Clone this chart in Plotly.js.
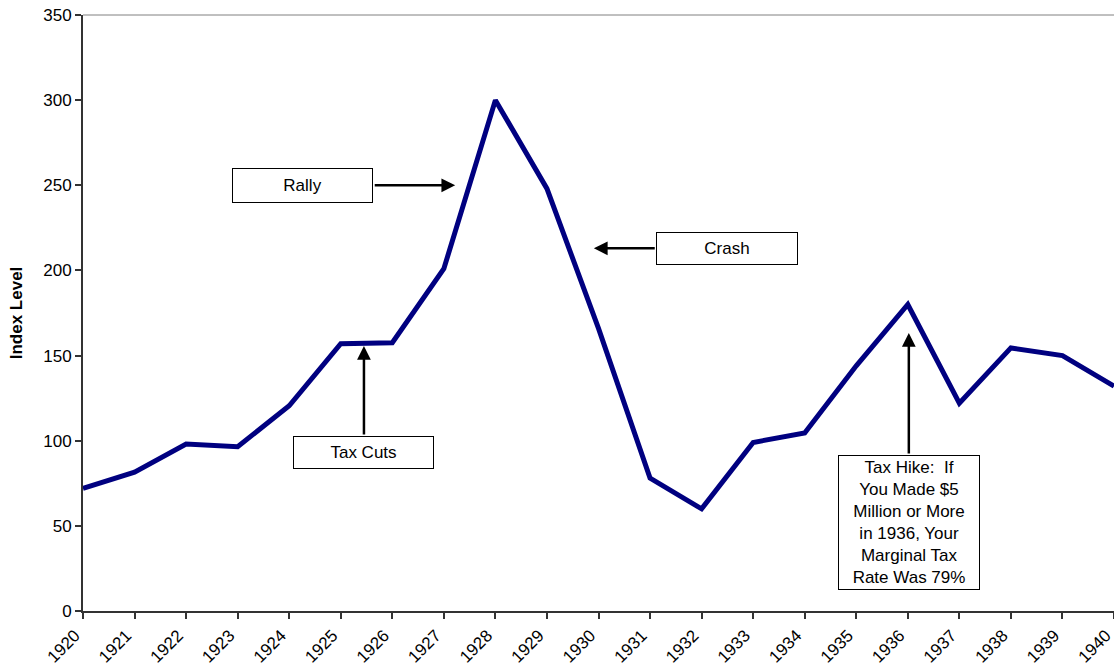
<!DOCTYPE html>
<html>
<head>
<meta charset="utf-8">
<script src="https://cdn.plot.ly/plotly-3.0.1.min.js"></script>
<style>
  html, body { margin: 0; padding: 0; background: #fff; }
  #chart { width: 1114px; height: 669px; }
</style>
</head>
<body>
<div id="chart"></div>
<script>
// Stock index level by year, 1920-1940
const years = [1920, 1921, 1922, 1923, 1924, 1925, 1926, 1927, 1928, 1929, 1930,
               1931, 1932, 1933, 1934, 1935, 1936, 1937, 1938, 1939, 1940];
const indexLevel = [72, 81.5, 98, 96.5, 120.5, 157, 157.5, 201, 300, 248, 166,
                    78, 60, 99, 104.5, 144, 180, 122, 154.5, 150, 132];
const yTicks = [0, 50, 100, 150, 200, 250, 300, 350];

const FONT = 'Liberation Sans, Arial, sans-serif';

const trace = {
  x: years,
  y: indexLevel,
  type: 'scatter',
  mode: 'lines',
  line: { color: '#000080', width: 5 },
  hoverinfo: 'x+y'
};

// Callout boxes
function box(x, y, text, w, h) {
  return {
    x: x, y: y, xref: 'x', yref: 'y', text: text, showarrow: false,
    width: w, height: h, bordercolor: '#000', borderwidth: 1, borderpad: 0,
    bgcolor: '#fff', align: 'center', valign: 'middle',
    font: { family: FONT, size: 17, color: '#000' }
  };
}
// Arrows between a box edge and the line
function arrow(x0, y0, x1, y1) {
  return {
    x: x1, y: y1, ax: x0, ay: y0, xref: 'x', yref: 'y', axref: 'x', ayref: 'y',
    text: '', showarrow: true, arrowhead: 2, arrowsize: 1.1, arrowwidth: 2.5,
    arrowcolor: '#000', standoff: 0, startstandoff: 0
  };
}

const annotations = [
  arrow(1925.63, 250, 1927.22, 250),
  box(1924.26, 250, 'Rally', 139, 33),
  arrow(1931.12, 213, 1929.91, 213),
  box(1932.49, 213, 'Crash', 140, 31),
  arrow(1925.45, 102.8, 1925.45, 155.6),
  box(1925.44, 93, 'Tax Cuts', 139, 31),
  arrow(1936.02, 91.6, 1936.02, 163.2),
  box(1936.02, 52, 'Tax Hike:  If<br>You Made $5<br>Million or More<br>in 1936, Your<br>Marginal Tax<br>Rate Was 79%', 140, 133)
];

const layout = {
  width: 1114,
  height: 669,
  margin: { l: 83, r: 0, t: 15, b: 58 },
  paper_bgcolor: '#fff',
  plot_bgcolor: '#fff',
  showlegend: false,
  font: { family: FONT, size: 17, color: '#000' },
  xaxis: {
    range: [1920, 1940],
    tickmode: 'array',
    tickvals: years,
    ticktext: years.map(String),
    tickangle: -45,
    ticks: 'outside',
    ticklen: 6,
    tickwidth: 2,
    tickcolor: '#333',
    showline: true,
    linecolor: '#333',
    linewidth: 2,
    showgrid: false,
    zeroline: false,
    ticklabeloverflow: 'allow',
    ticklabelshift: -8,
    tickfont: { family: FONT, size: 17, color: '#000' },
    fixedrange: true
  },
  yaxis: {
    range: [0, 350],
    tickmode: 'array',
    tickvals: yTicks,
    ticktext: yTicks.map(String),
    ticks: 'outside',
    ticklen: 6,
    tickwidth: 2,
    tickcolor: '#333',
    showline: true,
    linecolor: '#333',
    linewidth: 2,
    showgrid: false,
    zeroline: false,
    tickfont: { family: FONT, size: 17, color: '#000' },
    title: {
      text: '<b>Index Level</b>',
      font: { family: FONT, size: 17, color: '#000' },
      standoff: 16
    },
    fixedrange: true
  },
  shapes: [
    { type: 'line', xref: 'paper', yref: 'paper', x0: 0, x1: 1, y0: 1, y1: 1,
      line: { color: '#808080', width: 1 } }
  ],
  annotations: annotations
};

Plotly.newPlot('chart', [trace], layout, { displayModeBar: false, staticPlot: true });
</script>
</body>
</html>
